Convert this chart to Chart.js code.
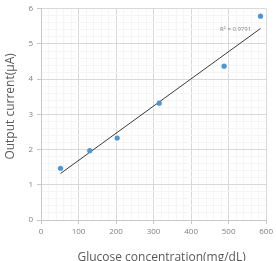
<!DOCTYPE html>
<html><head><meta charset="utf-8">
<script src="https://cdn.jsdelivr.net/npm/chart.js@4"></script>
<style>html,body{margin:0;padding:0;background:#fff;}#w{width:276px;height:261px;}</style>
</head><body><div id="w"><canvas id="c" width="276" height="261"></canvas></div>
<script>
const concentration = [52, 130, 203, 315, 488, 585];
const current = [1.47, 1.97, 2.33, 3.32, 4.37, 5.79];
const trendX = [52, 585];
const trendY = [1.32, 5.44];
const xTicks = [0, 100, 200, 300, 400, 500, 600];
const yTicks = [0, 1, 2, 3, 4, 5, 6];
const r2Label = 'R² = 0.9791';
const xTitle = 'Glucose concentration(mg/dL)';
const yTitle = 'Output current(μA)';

const FONT = "'Open Sans', sans-serif";
const isMajorX = v => xTicks.some(t => Math.abs(t - v) < 1e-6);
const isMajorY = v => yTicks.some(t => Math.abs(t - v) < 1e-6);

const textPlugin = {
  id: 'texts',
  afterDatasetsDraw(chart) {
    const {ctx, scales, chartArea} = chart;
    ctx.save();
    // R² label
    ctx.font = "6px " + FONT;
    ctx.fillStyle = '#7f7f7f';
    ctx.textAlign = 'right';
    ctx.textBaseline = 'middle';
    ctx.fillText(r2Label, scales.x.getPixelForValue(560), scales.y.getPixelForValue(5.43));
    // axis titles
    ctx.font = "12px " + FONT;
    ctx.fillStyle = '#595959';
    ctx.textAlign = 'center';
    ctx.textBaseline = 'middle';
    const cx = (chartArea.left + chartArea.right) / 2;
    const cy = (chartArea.top + chartArea.bottom) / 2;
    ctx.fillText(xTitle, cx + 8, chart.height - 3);
    ctx.translate(11, cy - 8);
    ctx.rotate(-Math.PI / 2);
    ctx.fillText(yTitle, 0, 0);
    ctx.restore();
  }
};

new Chart(document.getElementById('c'), {
  type: 'scatter',
  data: {
    datasets: [
      {
        label: 'data',
        data: concentration.map((x, i) => ({x, y: current[i]})),
        backgroundColor: '#4f97d3',
        borderColor: '#4f97d3',
        pointRadius: 2.6,
        pointBorderWidth: 0
      },
      {
        label: 'trend',
        type: 'line',
        data: trendX.map((x, i) => ({x, y: trendY[i]})),
        borderColor: '#3a3a3a',
        borderWidth: 1,
        pointRadius: 0,
        fill: false
      }
    ]
  },
  options: {
    responsive: false,
    animation: false,
    devicePixelRatio: 1,
    layout: {padding: {left: 0, right: 9, top: 7, bottom: 0}},
    plugins: {legend: {display: false}, tooltip: {enabled: false}},
    scales: {
      x: {
        type: 'linear', min: 0, max: 600,
        afterBuildTicks: s => { const t = []; for (let v = 0; v <= 600; v += 20) t.push({value: v}); s.ticks = t; },
        afterFit: s => { s.height = 41; },
        ticks: {
          autoSkip: false, maxRotation: 0, padding: 3,
          color: '#7f7f7f', font: {family: FONT, size: 8},
          callback: v => isMajorX(v) ? String(v) : ''
        },
        grid: {
          color: c => isMajorX(c.tick.value) ? '#d9d9d9' : '#f5f5f5',
          tickColor: c => isMajorX(c.tick.value) ? '#c8c8c8' : 'rgba(0,0,0,0)',
          tickLength: 4, lineWidth: 1
        },
        border: {color: '#c8c8c8'},
        title: {display: false}
      },
      y: {
        type: 'linear', min: 0, max: 6,
        afterBuildTicks: s => { const t = []; for (let i = 0; i <= 30; i++) t.push({value: i / 5}); s.ticks = t; },
        afterFit: s => { s.width = 41; },
        ticks: {
          autoSkip: false, padding: 4,
          color: '#7f7f7f', font: {family: FONT, size: 8},
          callback: v => isMajorY(v) ? String(Math.round(v)) : ''
        },
        grid: {
          color: c => isMajorY(c.tick.value) ? '#d9d9d9' : '#f5f5f5',
          tickColor: c => isMajorY(c.tick.value) ? '#c8c8c8' : 'rgba(0,0,0,0)',
          tickLength: 4, lineWidth: 1
        },
        border: {color: '#c8c8c8'},
        title: {display: false}
      }
    }
  },
  plugins: [textPlugin]
});
</script></body></html>
